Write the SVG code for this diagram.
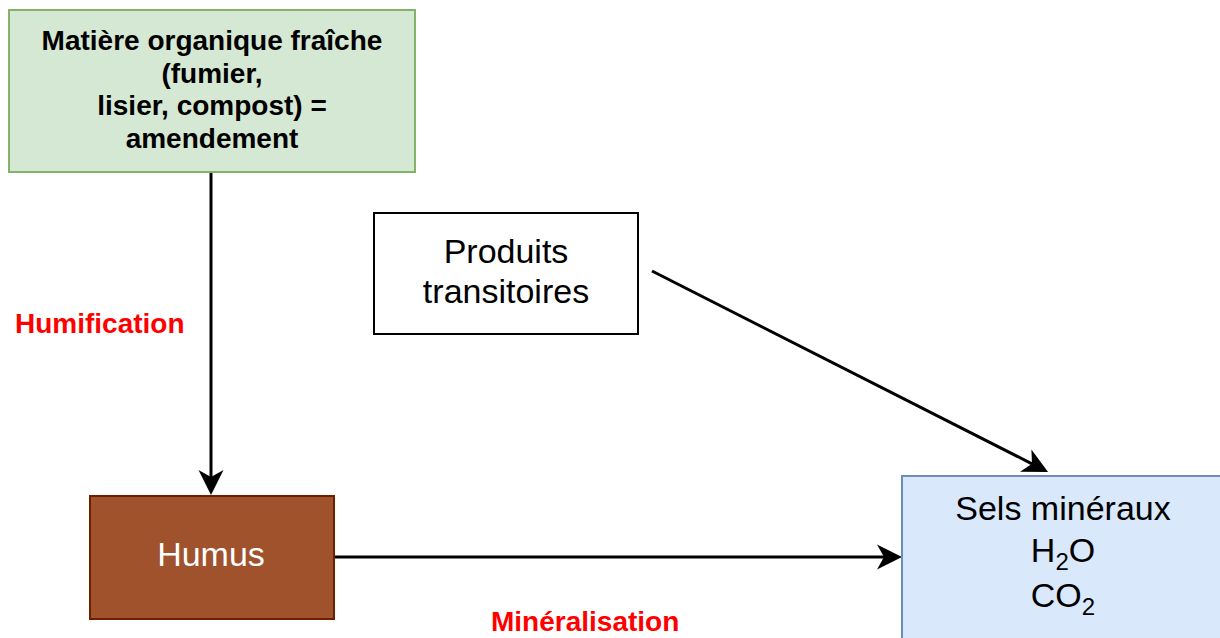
<svg xmlns="http://www.w3.org/2000/svg" width="1220" height="638" viewBox="0 0 1220 638">
<defs>
<style>
text{font-family:"Liberation Sans",Arial,sans-serif;text-anchor:middle}
.b{font-weight:bold;font-size:28px;fill:#000}
.n{font-size:34px;fill:#000}
.lbl{font-weight:bold;font-size:28px;fill:#ff0000;text-anchor:start}
.sub{font-size:24px}
.edge{stroke:#000;stroke-width:3;fill:none;marker-end:url(#arr)}
</style>
<marker id="arr" markerUnits="userSpaceOnUse" markerWidth="26" markerHeight="26" refX="7" refY="12.5" orient="auto" viewBox="0 0 26 25">
<path d="M25,12.5 L0,0 L7,12.5 L0,25 Z" fill="#000"/>
</marker>
</defs>
<rect width="1220" height="638" fill="#fff"/>
<g id="connectors">
<line class="edge" x1="211" y1="172" x2="211" y2="477"/>
<line class="edge" x1="334" y1="557" x2="884" y2="557"/>
<line class="edge" x1="652" y1="271" x2="1032" y2="463.8"/>
</g>
<g id="matiere">
<rect x="9" y="10" width="406" height="162" fill="#d5e8d4" stroke="#82b366" stroke-width="2"/>
<text class="b" x="212" y="50">Matière organique fraîche</text>
<text class="b" x="212" y="82.5">(fumier,</text>
<text class="b" x="212" y="115">lisier, compost) =</text>
<text class="b" x="212" y="147.5">amendement</text>
</g>
<g id="produits">
<rect x="374" y="213" width="264" height="121" fill="#fff" stroke="#000" stroke-width="2"/>
<text class="n" x="506" y="263">Produits</text>
<text class="n" x="506" y="303">transitoires</text>
</g>
<g id="humus">
<rect x="90" y="496" width="244" height="123" fill="#a0522d" stroke="#6d1f00" stroke-width="2"/>
<text class="n" x="211" y="566" style="fill:#fff">Humus</text>
</g>
<g id="sels">
<rect x="902" y="476" width="330" height="175" fill="#dae8fc" stroke="#6c8ebf" stroke-width="2"/>
<text class="n" x="1063" y="520">Sels minéraux</text>
<text class="n" x="1063" y="562">H<tspan class="sub" dy="8">2</tspan><tspan dy="-8">O</tspan></text>
<text class="n" x="1063" y="607">CO<tspan class="sub" dy="8">2</tspan></text>
</g>
<g id="labels">
<text class="lbl" x="15" y="333">Humification</text>
<text class="lbl" x="491" y="631">Minéralisation</text>
</g>
</svg>
